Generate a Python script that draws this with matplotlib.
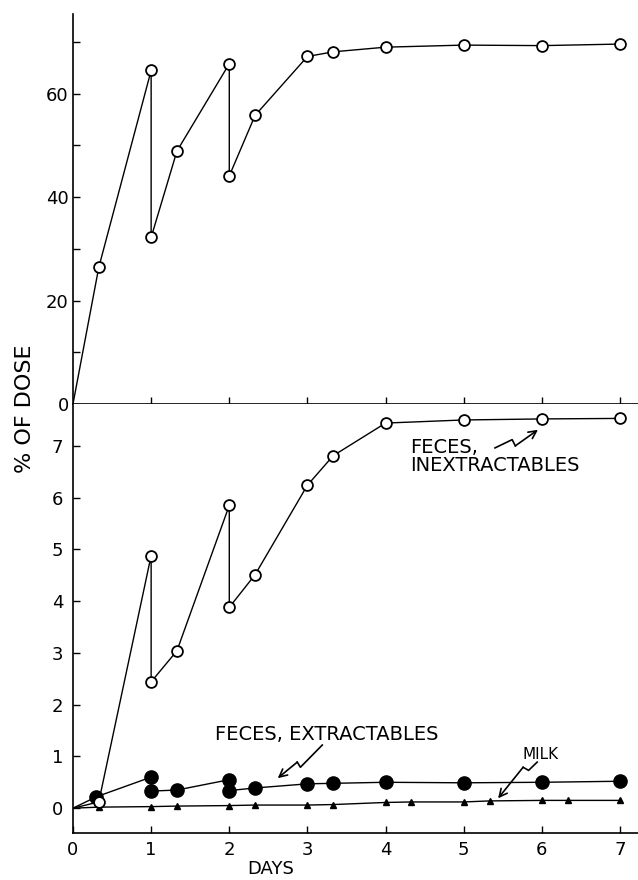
import matplotlib
matplotlib.use('Agg')
import matplotlib.pyplot as plt

# upper panel: total % of dose excreted
tot_days = [0, 0.33, 1, 1, 1.33, 2, 2, 2.33, 3, 3.33, 4, 5, 6, 7]
tot_pct = [0, 26.4, 64.5, 32.2, 48.9, 65.8, 44.1, 55.8, 67.2, 68.1, 69.0, 69.4, 69.3, 69.6]

# lower panel: feces inextractables (open), extractables (filled), milk (triangles)
inex_days = [0, 0.33, 1, 1, 1.33, 2, 2, 2.33, 3, 3.33, 4, 5, 6, 7]
inex_pct = [0, 0.12, 4.88, 2.44, 3.04, 5.85, 3.88, 4.51, 6.24, 6.81, 7.44, 7.50, 7.52, 7.53]

ext_days = [0, 0.3, 1, 1, 1.33, 2, 2, 2.33, 3, 3.33, 4, 5, 6, 7]
ext_pct = [0, 0.22, 0.60, 0.33, 0.35, 0.55, 0.34, 0.39, 0.47, 0.48, 0.50, 0.49, 0.50, 0.52]

milk_days = [0, 0.33, 1, 1.33, 2, 2.33, 3, 3.33, 4, 4.33, 5, 5.33, 6, 6.33, 7]
milk_pct = [0, 0.02, 0.03, 0.04, 0.05, 0.06, 0.06, 0.07, 0.11, 0.12, 0.12, 0.14, 0.15, 0.15, 0.15]

day_ticks = [0, 1, 2, 3, 4, 5, 6, 7]

plt.rcParams['font.family'] = ['DejaVu Sans']

fig = plt.figure(figsize=(6.38, 8.8), dpi=100)
ax1 = fig.add_axes([0.1144, 0.541, 0.8856, 0.443])
ax2 = fig.add_axes([0.1144, 0.0534, 0.8856, 0.4876])

for ax in (ax1, ax2):
    for s in ('top', 'right'):
        ax.spines[s].set_visible(False)
    for s in ('left', 'bottom'):
        ax.spines[s].set_linewidth(1.2)
    ax.set_xlim(0, 7.23)
    ax.tick_params(direction='in', length=5, width=1, labelsize=13)
    ax.tick_params(which='minor', direction='in', length=5, width=1)

# no marker at the origin, the curves just start there
skip0 = slice(1, None)
open_kw = dict(color='black', lw=1.0, marker='o', ms=7.8, mfc='white', mec='black',
               mew=1.3, markevery=skip0)

# --- top panel
ax1.plot(tot_days, tot_pct, **open_kw)
ax1.set_ylim(0, 75.4)
ax1.set_yticks([0, 20, 40, 60])
ax1.set_yticks([10, 30, 50, 70], minor=True)
ax1.set_xticks(day_ticks[1:])
ax1.tick_params(axis='x', labelbottom=False)
ax1.tick_params(axis='y', pad=3)

# --- bottom panel
ax2.plot(milk_days, milk_pct, color='black', lw=1.0, marker='^', ms=4, mfc='black',
         mec='black', markevery=skip0)
ax2.plot(ext_days, ext_pct, color='black', lw=1.0, marker='o', ms=9.5, mfc='black',
         mec='black', markevery=skip0)
ax2.plot(inex_days, inex_pct, **open_kw)
ax2.set_ylim(-0.48, 7.81)
ax2.set_yticks(range(8))
ax2.set_xticks(day_ticks)
ax2.tick_params(axis='y', pad=7)
ax2.tick_params(axis='x', pad=6)

# labels with zig-zag pointers
ax2.text(4.31, 7.16, 'FECES,\nINEXTRACTABLES', ha='left', va='top', fontsize=14, linespacing=0.95)
ax2.text(1.82, 1.61, 'FECES, EXTRACTABLES', ha='left', va='top', fontsize=14)
ax2.text(5.75, 1.18, 'MILK', ha='left', va='top', fontsize=11)

zigzags = [
    [(5.40, 6.96), (5.62, 7.12), (5.66, 7.00), (5.95, 7.31)],
    [(3.19, 1.22), (2.91, 0.79), (2.87, 0.89), (2.62, 0.58)],
    [(5.94, 0.89), (5.83, 0.73), (5.76, 0.79), (5.44, 0.19)],
]
for zz in zigzags:
    xs = [p[0] for p in zz[:-1]]
    ys = [p[1] for p in zz[:-1]]
    ax2.plot(xs, ys, color='black', lw=1.2)
    ax2.annotate('', xy=zz[-1], xytext=zz[-2],
                 arrowprops=dict(arrowstyle='->', lw=1.2, color='black',
                                 shrinkA=0, shrinkB=0, mutation_scale=14))

fig.text(0.039, 0.535, '% OF DOSE', rotation=90, ha='center', va='center', fontsize=16)
fig.text(0.425, 0.0125, 'DAYS', ha='center', va='center', fontsize=13)

fig.savefig('out.png', dpi=100)
